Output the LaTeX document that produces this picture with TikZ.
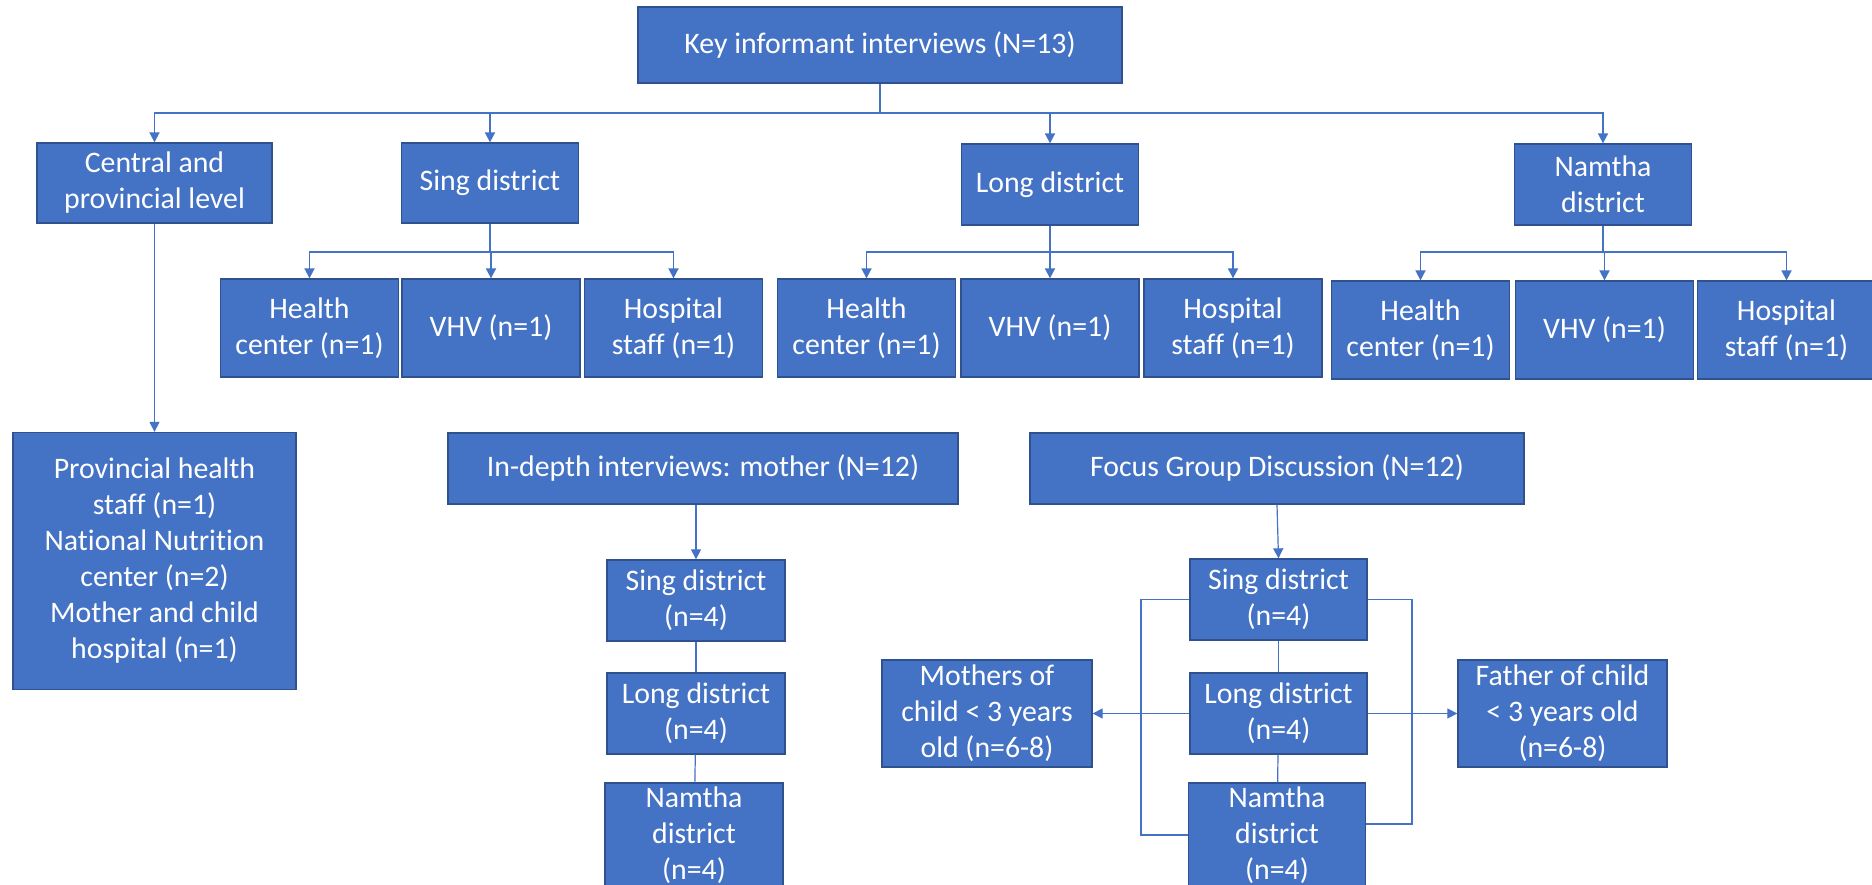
\documentclass[tikz,border=0pt]{standalone}
\usepackage{fontspec}
\setmainfont{Carlito}[Ligatures=NoCommon]
\usepackage{tikz}
\usetikzlibrary{arrows.meta}

\definecolor{boxblue}{HTML}{4472C4}
\definecolor{boxline}{HTML}{2F528F}

\begin{document}
\begin{tikzpicture}[x=1pt,y=-1pt,>={Triangle[length=10pt,width=10pt]}]
        \tikzstyle{every path}=[color=boxblue,line width=1.8pt]
        \tikzstyle{ibox}=[draw=boxline,fill=boxblue,text=white,line width=1.3pt,
        inner sep=0pt,align=center,font=\fontsize{29.8}{36}\selectfont]
        \tikzstyle{subbox}=[ibox,minimum width=178pt,minimum height=98pt]
        \tikzstyle{dbox}=[ibox,minimum width=177pt,minimum height=81pt]
        \tikzstyle{thin}=[line width=1.2pt]

        \useasboundingbox (0,0) rectangle (1872,885);

        %% Key informant interviews
        \node[ibox,minimum width=484pt,minimum height=76pt] (key) at (880,45) {Key informant interviews (N=13)};

        % first level
        \node[ibox,minimum width=235pt,minimum height=80pt] (central) at (154.5,183) {Central and\\provincial level};
        \node[ibox,minimum width=177pt,minimum height=80pt] (singK) at (490,183) {Sing district};
        \node[ibox,minimum width=177pt,minimum height=81pt] (longK) at (1050,184.5) {Long district};
        \node[ibox,minimum width=177pt,minimum height=81pt] (namK) at (1603,184.5) {Namtha\\district};

        % second level
        \node[subbox] (singHC) at (309.5,328) {Health\\center (n=1)};
        \node[subbox] (singVHV) at (491,328) {VHV (n=1)};
        \node[subbox] (singHS) at (673.5,328) {Hospital\\staff (n=1)};
        \node[subbox] (longHC) at (866.5,328) {Health\\center (n=1)};
        \node[subbox] (longVHV) at (1050,328) {VHV (n=1)};
        \node[subbox] (longHS) at (1233,328) {Hospital\\staff (n=1)};
        \node[subbox] (namHC) at (1420.5,330) {Health\\center (n=1)};
        \node[subbox] (namVHV) at (1604.5,330) {VHV (n=1)};
        \node[subbox] (namHS) at (1786.5,330) {Hospital\\staff (n=1)};

        \node[ibox,minimum width=283pt,minimum height=257pt] (prov) at (154.5,561)
        	{Provincial health\\staff (n=1)\\National Nutrition\\center (n=2)\\Mother and child\\hospital (n=1)};

        %% In-depth interviews
        \node[ibox,minimum width=510pt,minimum height=71pt] (idi) at (703,468.5) {In-depth interviews: mother (N=12)};
        \node[dbox,minimum width=178pt] (singI) at (696,600.5) {Sing district\\(n=4)};
        \node[dbox,minimum width=178pt] (longI) at (696,713.5) {Long district\\(n=4)};
        \node[dbox,minimum width=178pt,minimum height=104pt] (namI) at (694,835) {Namtha\\district\\(n=4)};

        %% Focus group discussion
        \node[ibox,minimum width=494pt,minimum height=71pt] (fgd) at (1277,468.5) {Focus Group Discussion (N=12)};
        \node[dbox] (singF) at (1278.5,599.5) {Sing district\\(n=4)};
        \node[dbox] (longF) at (1278.5,713.5) {Long district\\(n=4)};
        \node[dbox,minimum height=104pt] (namF) at (1277,835) {Namtha\\district\\(n=4)};
        \node[ibox,minimum width=210pt,minimum height=107pt] (mothers) at (987,713.5) {Mothers of\\child < 3 years\\old (n=6-8)};
        \node[ibox,minimum width=209pt,minimum height=107pt] (father) at (1562.5,713.5) {Father of child\\< 3 years old\\(n=6-8)};

        %% Edges
        \coordinate (kbus) at (880,113);
        \draw[->] (key.south) -- (kbus) -| (central.north);
        \draw[->] (key.south) -- (kbus) -| (singK.north);
        \draw[->] (key.south) -- (kbus) -| (longK.north);
        \draw[->] (key.south) -- (kbus) -| (namK.north);

        \coordinate (sbus) at (490,252);
        \draw[->] (singK.south) -- (sbus) -| (singHC.north);
        \draw[->] (singK.south) -- (sbus) -| (singVHV.north);
        \draw[->] (singK.south) -- (sbus) -| (singHS.north);

        \coordinate (lbus) at (1050,252);
        \draw[->] (longK.south) -- (lbus) -| (longHC.north);
        \draw[->] (longK.south) -- (lbus) -| (longVHV.north);
        \draw[->] (longK.south) -- (lbus) -| (longHS.north);

        \coordinate (nbus) at (1603,252);
        \draw[->] (namK.south) -- (nbus) -| (namHC.north);
        \draw[->] (namK.south) -- (nbus) -| (namVHV.north);
        \draw[->] (namK.south) -- (nbus) -| (namHS.north);

        \draw[->,thin] (central.south) -- (prov.north);

        \draw[->,thin] (singI.north |- idi.south) -- (singI.north);
        \draw[thin] (singI) -- (longI);
        \draw[thin] (longI) -- (namI);

        \draw[->,thin] (fgd.south) -- (singF.north);
        \draw[thin] (singF) -- (longF);
        \draw[thin] (longF) -- (namF);

        % brackets round the FGD districts
        \coordinate (lbr) at (1141,599.5);
        \coordinate (rbr) at (1412,599.5);
        \coordinate (rbrb) at (1412,824);
        \draw[thin] (singF.west) -- (lbr) |- (namF.west);
        \draw[thin] (singF.east) -- (rbr) -- (rbrb) -- (rbrb -| namF.east);
        \draw[->,thin] (longF.west) -- (mothers.east);
        \draw[->,thin] (longF.east) -- (father.west);

\end{tikzpicture}
\end{document}
